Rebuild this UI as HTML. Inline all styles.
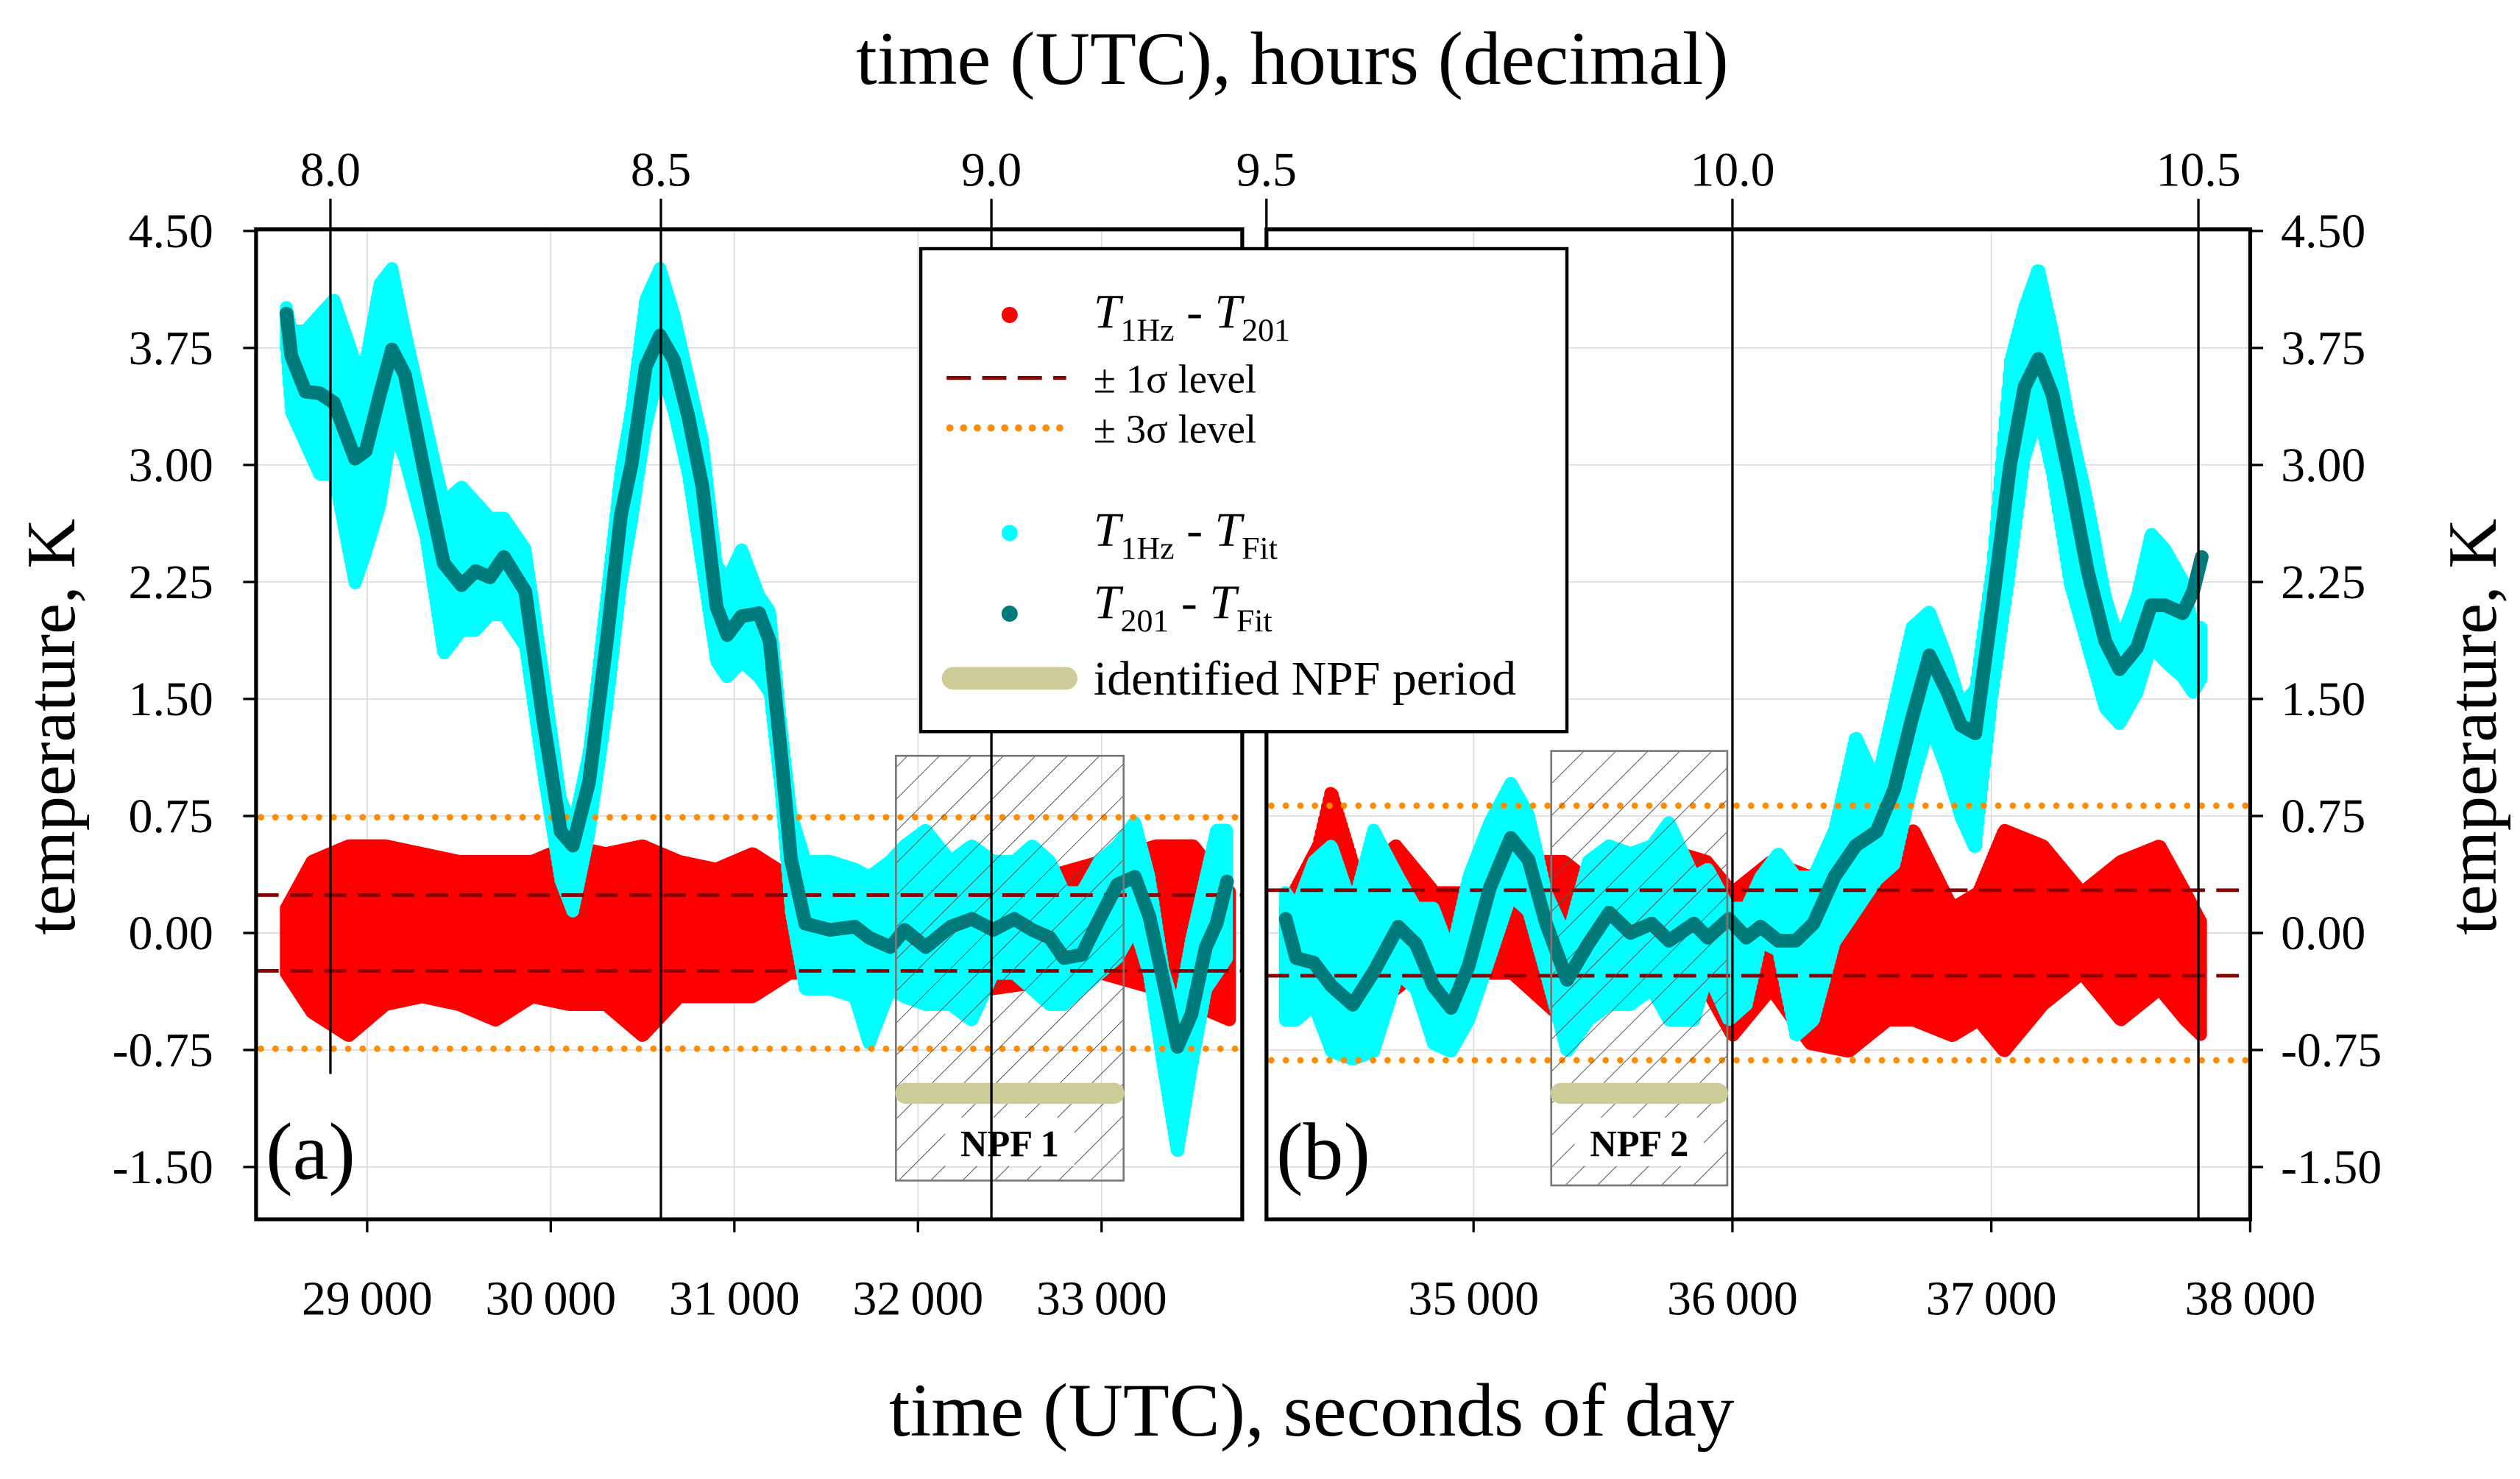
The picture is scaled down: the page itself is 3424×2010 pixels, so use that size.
<!DOCTYPE html>
<html><head><meta charset="utf-8"><style>
html,body{margin:0;padding:0;background:#fff}
svg{display:block}
text{font-family:"Liberation Serif",serif;fill:#000}
</style></head><body>
<svg id="chart" width="3424" height="2010" viewBox="0 0 1560 915.8" xmlns="http://www.w3.org/2000/svg">
<defs>
<pattern id="hatch" width="14" height="14" patternUnits="userSpaceOnUse" patternTransform="rotate(45)">
<line x1="0" y1="0" x2="0" y2="14" stroke="#555" stroke-width="0.9"/>
</pattern>
</defs>
<g id="root"></g>
</svg>
<script>
// ---------- Panel (a) data ----------
const tealA_t = [28560,28587,28664,28741,28819,28934,28992,29069,29135,29205,29320,29417,29514,29591,29668,29745,29861,29958,30054,30120,30209,30305,30382,30440,30517,30595,30672,30749,30826,30903,30961,31039,31135,31193,31251,31309,31386,31521,31656,31734,31849,31927,32042,32178,32293,32409,32525,32622,32718,32795,32892,32988,33085,33181,33259,33336,33413,33490,33568,33626,33683];
const tealA_v = [3.97,3.70,3.47,3.46,3.40,3.04,3.09,3.45,3.74,3.58,2.91,2.37,2.23,2.32,2.28,2.41,2.19,1.37,0.65,0.56,0.97,1.87,2.68,3.00,3.63,3.83,3.67,3.31,2.86,2.09,1.91,2.03,2.05,1.87,1.19,0.47,0.06,0.02,0.04,-0.03,-0.09,0.02,-0.09,0.04,0.09,0.02,0.09,0.02,-0.03,-0.16,-0.14,0.09,0.31,0.36,0.11,-0.30,-0.73,-0.52,-0.09,0.06,0.33];
const cyanA_hi = [4.05,3.9,3.9,4.0,4.1,3.7,3.7,4.2,4.3,3.9,3.3,2.8,2.9,2.8,2.7,2.7,2.5,1.7,0.9,0.7,1.2,2.2,3.0,3.4,4.1,4.3,4.0,3.6,3.2,2.4,2.3,2.5,2.2,2.1,1.4,0.8,0.5,0.5,0.45,0.4,0.5,0.6,0.7,0.5,0.6,0.5,0.5,0.6,0.5,0.3,0.3,0.5,0.6,0.75,0.4,-0.2,-0.5,0.0,0.4,0.7,0.7];
const cyanA_lo = [3.7,3.3,3.1,2.9,2.9,2.2,2.4,2.7,3.2,3.0,2.5,1.75,1.9,1.9,2.0,2.0,1.8,1.0,0.3,0.1,0.6,1.4,2.2,2.6,3.2,3.6,3.3,2.9,2.3,1.7,1.6,1.7,1.6,1.5,0.9,0.1,-0.4,-0.4,-0.45,-0.75,-0.4,-0.45,-0.5,-0.5,-0.6,-0.3,-0.3,-0.4,-0.5,-0.5,-0.4,-0.3,-0.2,0.0,-0.3,-0.9,-1.45,-0.9,-0.4,-0.3,-0.2];
const redA_t = [28560,28700,28900,29100,29300,29500,29700,29900,30100,30300,30500,30700,30900,31100,31300,31500,31800,32100,32400,32700,33000,33300,33500,33700];
const redA_lo = [-0.3,-0.55,-0.7,-0.5,-0.45,-0.5,-0.6,-0.45,-0.5,-0.5,-0.7,-0.45,-0.45,-0.45,-0.3,-0.3,-0.35,-0.4,-0.4,-0.35,-0.3,-0.4,-0.5,-0.6];
const redA_hi = [0.2,0.5,0.6,0.6,0.55,0.5,0.5,0.5,0.6,0.55,0.6,0.5,0.45,0.55,0.4,0.3,0.4,0.5,0.4,0.4,0.5,0.6,0.6,0.3];
const sigmaA = [0.243,0.742];
// ---------- Panel (b) data ----------
const tealB_t = [34274,34315,34383,34451,34533,34614,34709,34777,34845,34913,34981,35063,35144,35212,35280,35361,35443,35524,35606,35688,35755,35851,35905,35986,36054,36109,36177,36245,36313,36394,36476,36557,36625,36693,36761,36829,36883,36938,37005,37073,37128,37182,37236,37304,37372,37440,37495,37563,37617,37671,37739,37780,37813];
const tealB_v = [0.09,-0.16,-0.19,-0.34,-0.46,-0.25,0.04,-0.07,-0.34,-0.48,-0.21,0.29,0.61,0.47,0.06,-0.30,-0.07,0.13,0.00,0.06,-0.05,0.06,-0.03,0.09,-0.03,0.04,-0.05,-0.05,0.06,0.36,0.56,0.65,0.92,1.37,1.78,1.55,1.33,1.28,2.10,3.00,3.50,3.68,3.45,2.91,2.32,1.87,1.69,1.83,2.10,2.10,2.05,2.19,2.41];
const cyanB_hi = [0.3,0.2,0.5,0.6,0.2,0.7,0.4,0.2,0.2,-0.1,0.4,0.75,1.0,0.8,0.3,0.0,0.5,0.6,0.55,0.6,0.75,0.4,0.45,0.2,0.2,0.4,0.55,0.4,0.4,0.7,1.3,1.0,1.5,2.0,2.1,1.8,1.5,1.6,2.4,3.7,4.05,4.3,3.9,3.3,2.8,2.2,1.9,2.2,2.6,2.5,2.3,2.0,2.0];
const cyanB_lo = [-0.6,-0.6,-0.5,-0.8,-0.85,-0.8,-0.3,-0.4,-0.75,-0.8,-0.6,-0.2,0.2,0.1,-0.3,-0.8,-0.6,-0.5,-0.5,-0.4,-0.6,-0.6,-0.3,-0.6,-0.5,-0.1,-0.15,-0.7,-0.6,-0.1,0.1,0.3,0.4,0.9,1.3,1.0,0.7,0.5,1.5,2.3,3.0,3.3,2.9,2.2,1.8,1.4,1.3,1.5,1.8,1.7,1.6,1.5,1.6];
const redB_t = [34274,34400,34450,34550,34700,34850,35000,35150,35350,35500,35700,35900,36000,36150,36300,36450,36600,36700,36850,36950,37050,37200,37350,37500,37650,37750,37813];
const redB_lo = [-0.55,-0.4,-0.3,-0.4,-0.4,-0.2,-0.3,-0.3,-0.6,-0.5,-0.4,-0.4,-0.7,-0.4,-0.75,-0.8,-0.6,-0.6,-0.7,-0.6,-0.8,-0.5,-0.3,-0.6,-0.4,-0.6,-0.7];
const redB_hi = [0.2,0.6,0.95,0.4,0.6,0.3,0.3,0.5,0.5,0.3,0.6,0.5,0.3,0.5,0.4,0.6,0.5,0.7,0.2,0.3,0.7,0.6,0.3,0.5,0.6,0.3,0.1];
const sigmaB = [0.274,0.816];
// ---------- ticks ----------
const yTicks = [4.5,3.75,3.0,2.25,1.5,0.75,0.0,-0.75,-1.5];
const xTicksA = [29000,30000,31000,32000,33000];
const xTicksB = [35000,36000,37000,38000];
const hourTicksA = [8.0,8.5,9.0];
const hourTicksB = [9.5,10.0,10.5];
const npfA = [31880,33120];
const npfB = [35300,35980];

const NS = "http://www.w3.org/2000/svg";
const root = document.getElementById('root');
function mk(tag, attrs, parent, txt){
  const e = document.createElementNS(NS, tag);
  for (const k in attrs) e.setAttribute(k, attrs[k]);
  if (txt !== undefined) e.textContent = txt;
  (parent || root).appendChild(e);
  return e;
}
const Y0 = 577.7, YU = 96.6;
const yS = v => Y0 - v*YU;
const TOP = 142, BOT = 755;
const PA = {x0:158.5, x1:769, d0:28395, d1:33766};
const PB = {x0:784, x1:1393, d0:34200, d1:38000};
const xf = P => t => P.x0 + (t-P.d0)*(P.x1-P.x0)/(P.d1-P.d0);
const xA = xf(PA), xB = xf(PB);
function interp(ts, vs, t){
  if (t <= ts[0]) return vs[0];
  for (let i=1;i<ts.length;i++){ if (t<=ts[i]){ const f=(t-ts[i-1])/(ts[i]-ts[i-1]); return vs[i-1]+f*(vs[i]-vs[i-1]); } }
  return vs[vs.length-1];
}

function drawPanel(P, xs, d, name){
  const g = mk('g', {}); 
  
  
  yTicks.forEach(v => { const l = mk('line',{x1:P.x0,x2:P.x1,y1:yS(v),y2:yS(v),stroke:'#ddd','stroke-width':0.8},g);
      });
  d.xt.forEach(t => { const l = mk('line',{x1:xs(t),x2:xs(t),y1:TOP,y2:BOT,stroke:'#ddd','stroke-width':0.8},g);
      });
  const red = mk('g',{stroke:'#ff0000','stroke-width':8,'stroke-linecap':'round'},g);
  
  
  for (let t=d.redT[0]; t<=d.redT[d.redT.length-1]; t+=6){
    const lo = interp(d.redT,d.redLo,t), hi = interp(d.redT,d.redHi,t);
    mk('line',{x1:xs(t),x2:xs(t),y1:yS(lo)-4,y2:yS(hi)+4},red);
  }
  const cy = mk('g',{stroke:'#00ffff','stroke-width':8,'stroke-linecap':'round'},g);
  
  
  for (let t=d.tt[0]; t<=d.tt[d.tt.length-1]; t+=5){
    const lo = interp(d.tt,d.cLo,t), hi = interp(d.tt,d.cHi,t);
    mk('line',{x1:xs(t),x2:xs(t),y1:yS(lo)-4,y2:yS(hi)+4},cy);
  }
  [1,-1].forEach(s => {
    const l1 = mk('line',{x1:P.x0,x2:P.x1,y1:yS(s*d.sig[0]),y2:yS(s*d.sig[0]),stroke:'#8b0000','stroke-width':2.2,'stroke-dasharray':'14 7'},g);
     
    const l3 = mk('line',{x1:P.x0+3,x2:P.x1,y1:yS(s*d.sig[1]),y2:yS(s*d.sig[1]),stroke:'#ff8c00','stroke-width':4,'stroke-dasharray':'0 9','stroke-linecap':'round'},g);
     
  });
  const pts = d.tt.map((t,i)=>xs(t).toFixed(1)+','+yS(d.tv[i]).toFixed(1)).join(' ');
  const tl = mk('polyline',{points:pts,fill:'none',stroke:'#007b7b','stroke-width':8.5,'stroke-linejoin':'round','stroke-linecap':'round'},g);
   
  const bx0 = xs(d.npf[0]), bx1 = xs(d.npf[1]), by0 = d.boxY[0], by1 = d.boxY[1];
  const hb = mk('rect',{x:bx0,y:by0,width:bx1-bx0,height:by1-by0,fill:'url(#hatch)',stroke:'#777','stroke-width':1.2},g);
   
  const bar = mk('line',{x1:bx0+6,x2:bx1-6,y1:677,y2:677,stroke:'#cccc99','stroke-width':13,'stroke-linecap':'round'},g);
   
  mk('rect',{x:(bx0+bx1)/2-40,y:692,width:80,height:30,fill:'#fff'},g);
  const nt = mk('text',{x:(bx0+bx1)/2,y:716,'text-anchor':'middle','font-size':23,'font-weight':'bold'},g,d.npfLabel);
   
  d.hours.forEach(h => { const x = xs(h*3600); const l = mk('line',{x1:x,x2:x,y1:123,y2:d.hourBot(h),stroke:'#000','stroke-width':1.5},g);
     
    const tx = mk('text',{x:x,y:115,'text-anchor':'middle','font-size':30},g,h.toFixed(1));
      });
  const fr = mk('rect',{x:P.x0,y:TOP,width:P.x1-P.x0,height:BOT-TOP,fill:'none',stroke:'#000','stroke-width':2.4},g);
   
  d.xt.forEach(t => { mk('line',{x1:xs(t),x2:xs(t),y1:BOT,y2:BOT+8,stroke:'#000','stroke-width':1.5},g);
    const tx = mk('text',{x:xs(t),y:814,'text-anchor':'middle','font-size':30},g,String(t).replace(/(\d\d)(\d{3})/,'$1\u2009$2'));
      });
  const tag = mk('text',{x:P.x0+6,y:730,'font-size':50},g,d.tag);
   
}

drawPanel(PA, xA, {xt:xTicksA, redT:redA_t, redLo:redA_lo, redHi:redA_hi, tt:tealA_t, tv:tealA_v, cHi:cyanA_hi, cLo:cyanA_lo, sig:sigmaA, npf:npfA, boxY:[468,731], npfLabel:'NPF 1', hours:hourTicksA, hourBot:h=>h===8.0?665:BOT, tag:'(a)'}, 'panel-a');
drawPanel(PB, xB, {xt:xTicksB, redT:redB_t, redLo:redB_lo, redHi:redB_hi, tt:tealB_t, tv:tealB_v, cHi:cyanB_hi, cLo:cyanB_lo, sig:sigmaB, npf:npfB, boxY:[465,734], npfLabel:'NPF 2', hours:hourTicksB, hourBot:h=>BOT, tag:'(b)'}, 'panel-b');

yTicks.forEach(v => {
  mk('line',{x1:PA.x0-8,x2:PA.x0,y1:yS(v),y2:yS(v),stroke:'#000','stroke-width':1.5});
  mk('line',{x1:PB.x1,x2:PB.x1+8,y1:yS(v),y2:yS(v),stroke:'#000','stroke-width':1.5});
  const l = mk('text',{x:132,y:yS(v)+10,'text-anchor':'end','font-size':30},root,v.toFixed(2));
   
  const r = mk('text',{x:1412,y:yS(v)+10,'font-size':30},root,v.toFixed(2));
   
});
</script>

<svg style="position:absolute;left:0;top:0" width="3424" height="2010" viewBox="0 0 1560 915.8" xmlns="http://www.w3.org/2000/svg">
<text x="800" y="52" text-anchor="middle" font-size="47">time (UTC), hours (decimal)</text>
<text x="812" y="889" text-anchor="middle" font-size="47">time (UTC), seconds of day</text>
<text transform="translate(46,450) rotate(-90)" text-anchor="middle" font-size="43">temperature, K</text>
<text transform="translate(1545,450) rotate(-90)" text-anchor="middle" font-size="43">temperature, K</text>
<g>
<rect x="570" y="154" width="400" height="299" fill="#fff" stroke="#000" stroke-width="2"/>
<circle cx="625" cy="195" r="5" fill="#ff0000"/>
<text x="677" y="203" font-size="30"><tspan font-style="italic">T</tspan><tspan font-size="20" dy="8">1Hz</tspan><tspan dy="-8"> - </tspan><tspan font-style="italic">T</tspan><tspan font-size="20" dy="8">201</tspan></text>
<line x1="586" y1="234" x2="660" y2="234" stroke="#8b0000" stroke-width="2.4" stroke-dasharray="15 7"/>
<text x="677" y="243" font-size="25">± 1σ level</text>
<line x1="588" y1="265" x2="662" y2="265" stroke="#ff8c00" stroke-width="4.5" stroke-dasharray="0 8.5" stroke-linecap="round"/>
<text x="677" y="274" font-size="25">± 3σ level</text>
<circle cx="625" cy="330" r="5" fill="#00ffff"/>
<text x="677" y="338" font-size="30"><tspan font-style="italic">T</tspan><tspan font-size="20" dy="8">1Hz</tspan><tspan dy="-8"> - </tspan><tspan font-style="italic">T</tspan><tspan font-size="20" dy="8">Fit</tspan></text>
<circle cx="625" cy="380" r="5" fill="#007b7b"/>
<text x="677" y="383" font-size="30"><tspan font-style="italic">T</tspan><tspan font-size="20" dy="8">201</tspan><tspan dy="-8"> - </tspan><tspan font-style="italic">T</tspan><tspan font-size="20" dy="8">Fit</tspan></text>
<line x1="590" y1="420" x2="660" y2="420" stroke="#cccc99" stroke-width="14" stroke-linecap="round"/>
<text x="677" y="430" font-size="30">identified NPF period</text>
</g>
</svg>
</body></html>
